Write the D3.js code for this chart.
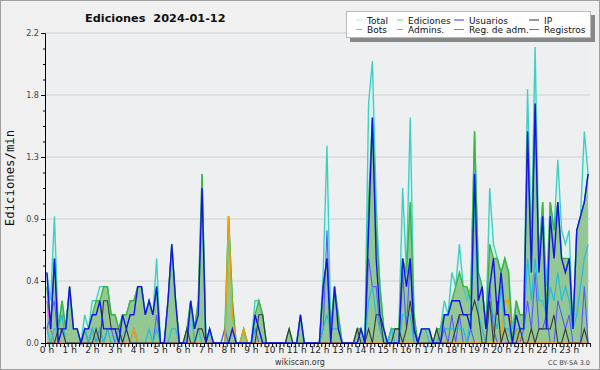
<!DOCTYPE html>
<html><head><meta charset="utf-8">
<script src="https://cdn.jsdelivr.net/npm/d3@7"></script>
<style>
body{margin:0;background:#f0f0f0;}
svg{display:block;font-family:"DejaVu Sans",sans-serif;}
</style></head><body>
<svg id="c" width="600" height="370"></svg>
<script>
const title = "Ediciones  2024-01-12";
const yLabel = "Ediciones/min";
const hourLabels = d3.range(24).map(h => h + " h");
const yTicks = [0, 0.44, 0.88, 1.32, 1.76, 2.2];
const legendNames = ["Total","Ediciones","Usuarios","IP","Bots","Admins.","Reg. de adm.","Registros"];

// 10-minute buckets, 144 per day (values in edits/min)
const total = [
0.5,0.3,0.9,0.1,0.3,0.1, 0.4,0.1,0.1,0,0.2,0.1, 0.3,0.3,0.4,0.4,0.4,0.2, 0.2,0.1,0.2,0.2,0.3,0.3,
0.4,0.4,0.2,0.3,0.2,0.6, 0,0,0.3,0.7,0.3,0, 0,0.1,0.3,0.1,0.3,1.2, 0,0.1,0,0,0,0.1,
0.9,0.3,0,0,0.1,0, 0,0.3,0.3,0.2,0,0, 0,0,0,0,0.1,0, 0,0.2,0,0,0,0,
0,0.5,1.4,0.1,0.4,0.2, 0,0,0,0,0.1,0.1, 0,1.7,2.0,1.0,0.4,0.1, 0,0.1,0.1,0.1,1.1,0.5,
1.6,0.2,0,0.1,0.1,0.1, 0,0.1,0.1,0.3,0.2,0.5, 0.4,0.7,0.4,0.3,0.4,1.5, 0.5,0.4,0.1,1.1,0.7,0.6,
0.5,0.6,0.5,0.1,0.3,0.2, 0.2,1.8,0.7,2.1,0.6,1.0, 0.4,1.0,0.8,1.3,0.8,0.7, 0.8,0.1,0.8,0.9,1.5,1.2];
const ediciones = [
0.4,0.1,0.6,0.1,0.3,0.1, 0.4,0.1,0.1,0,0.1,0.1, 0.2,0.3,0.3,0.4,0.4,0.2, 0.2,0.1,0.2,0.2,0.3,0.3,
0.4,0.4,0.2,0.3,0.2,0.4, 0,0,0.3,0.7,0.3,0, 0,0.1,0.3,0.1,0.3,1.2, 0,0.1,0,0,0,0,
0.9,0.3,0,0,0.1,0, 0,0.2,0.3,0.2,0,0, 0,0,0,0,0.1,0, 0,0.2,0,0,0,0,
0,0.4,0.6,0.1,0.4,0.2, 0,0,0,0,0.1,0.1, 0,1.0,1.6,0.8,0.4,0.1, 0,0.1,0.1,0.1,0.6,0.5,
1.0,0.2,0,0.1,0.1,0.1, 0,0.1,0.1,0.2,0.2,0.3, 0.4,0.5,0.4,0.4,0.3,1.5, 0.5,0.4,0.1,0.7,0.6,0.6,
0.5,0.6,0.5,0,0.3,0.2, 0.2,1.5,0.6,1.7,0.6,1.0, 0.2,1.0,0.8,1.0,0.6,0.6, 0.6,0.1,0.8,0.9,1.0,1.2];
const usuarios = [
0.5,0.1,0.6,0,0.1,0.1, 0.4,0.1,0.1,0,0.1,0.1, 0.2,0.2,0.3,0.1,0.1,0.1, 0.1,0,0.2,0.1,0.2,0.2,
0.4,0.4,0.2,0.3,0.2,0.4, 0,0,0.3,0.7,0.3,0, 0,0,0.3,0.1,0.2,1.1, 0,0.1,0,0,0,0,
0,0.1,0,0,0,0, 0,0.2,0.1,0,0,0, 0,0,0,0,0,0, 0,0.2,0,0,0,0,
0,0.4,0.6,0,0.4,0.1, 0,0,0,0,0,0.1, 0,0.8,1.6,0.6,0.2,0.1, 0,0,0,0,0.6,0.4,
0.6,0.1,0,0.1,0.1,0.1, 0,0,0,0.2,0.2,0.3, 0.3,0.3,0.2,0.2,0.1,1.2, 0.3,0.4,0.1,0.4,0.6,0.2,
0.5,0.2,0.2,0,0.2,0.1, 0.1,1.5,0.5,1.7,0.5,0.9, 0.1,0.9,0.6,1.0,0.6,0.5, 0.6,0.1,0.8,0.9,1.0,1.2];
const ip = [
0,0,0,0.1,0.1,0, 0,0,0,0,0,0, 0,0.1,0,0.3,0.3,0.1, 0.1,0.1,0,0.1,0,0,
0,0,0,0,0,0, 0,0,0,0,0,0, 0,0.1,0,0,0.1,0.1, 0,0,0,0,0,0,
0,0,0,0,0,0, 0,0,0.2,0.2,0,0, 0,0,0,0,0.1,0, 0,0,0,0,0,0,
0,0,0,0,0,0, 0,0,0,0,0.1,0, 0,0.1,0,0.2,0.2,0, 0,0,0.1,0.1,0,0.1,
0.3,0.1,0,0,0,0, 0,0.1,0,0,0,0, 0.1,0.2,0.2,0.2,0.2,0.3, 0.2,0,0,0.3,0,0.3,
0,0.1,0,0,0,0.1, 0,0,0.1,0,0.1,0.1, 0.1,0.1,0.2,0,0,0.1, 0,0,0,0,0.1,0];
const bots = [
0,0,0,0,0,0, 0,0,0,0,0,0, 0,0,0,0,0,0, 0,0,0,0,0,0.1,
0,0,0,0,0,0, 0,0,0,0,0,0, 0,0,0,0,0,0, 0,0,0,0,0,0,
0.9,0.2,0,0,0.1,0, 0,0,0,0,0,0, 0,0,0,0,0,0, 0,0,0,0,0,0,
0,0,0,0,0,0, 0,0,0,0,0,0, 0,0,0,0,0,0, 0,0,0,0,0,0,
0,0,0,0,0,0, 0,0,0,0,0,0, 0,0,0,0,0,0, 0,0,0,0,0,0,
0,0.3,0.3,0,0.1,0, 0,0,0,0,0,0, 0,0,0,0,0,0, 0,0,0,0,0,0];
const admins = [
0.1,0,0.1,0.1,0.2,0, 0,0,0,0,0.1,0, 0.1,0,0.1,0,0.1,0, 0,0.1,0,0.1,0,0,
0,0,0,0.1,0,0.1, 0,0,0,0.1,0.1,0, 0,0,0.3,0,0.1,0, 0,0.1,0,0,0,0,
0,0,0,0,0,0, 0,0.1,0.1,0,0,0, 0,0,0,0,0,0, 0,0,0,0,0,0,
0,0.1,0.2,0.1,0.1,0.1, 0,0,0,0,0,0, 0,0.3,0.4,0.2,0.1,0, 0,0.1,0,0,0.2,0.2,
0.2,0,0,0.1,0.1,0, 0,0,0.1,0.1,0.1,0.1, 0.1,0.1,0.1,0,0.2,1.0, 0.2,0.1,0,0.3,0.2,0.1,
0.4,0.1,0.1,0,0.1,0.1, 0.1,0.6,0.3,0.6,0.3,0.3, 0.2,0.4,0.3,0.5,0.3,0.4, 0.3,0.1,0.2,0.4,0.6,0.7];
const regAdm = [
0.3,0.1,0,0,0,0, 0,0,0,0,0,0, 0,0,0,0,0,0, 0,0,0,0,0,0,
0,0,0,0,0,0, 0,0,0,0,0,0, 0,0,0,0,0,0, 0,0,0,0,0,0,
0,0,0,0,0,0, 0,0,0,0,0,0, 0,0,0,0,0,0, 0,0,0,0,0,0,
0,0,0,0,0,0, 0,0,0,0,0,0, 0,0,0,0,0,0, 0,0,0,0,0,0,
0,0,0,0,0,0, 0,0,0,0,0,0, 0,0,0,0,0,0, 0,0,0,0,0,0,
0,0,0,0,0,0, 0,0,0,0,0,0, 0,0,0,0,0,0, 0,0,0,0,0,0];
const registros = [
0.1,0.2,0.3,0,0,0, 0,0,0,0,0.1,0, 0.1,0,0.1,0,0.1,0.1, 0,0,0,0,0,0.1,
0,0,0,0,0,0.2, 0,0,0,0,0,0, 0,0,0,0,0,0, 0,0,0,0,0,0.1,
0,0,0,0,0,0, 0,0.1,0,0,0,0, 0,0,0,0,0,0, 0,0,0,0,0,0,
0,0.1,0.8,0,0,0, 0,0,0,0,0,0, 0,0.6,0.4,0.4,0.1,0, 0,0,0,0,0.5,0.1,
0.6,0,0,0,0,0, 0,0,0,0.1,0,0.2, 0,0.2,0,0,0.1,0, 0,0,0,0.4,0.1,0,
0,0,0,0,0,0, 0.1,0.3,0.1,0.5,0.1,0.1, 0.2,0,0,0.3,0.2,0.1, 0.2,0,0,0,0.4,0];

const svg = d3.select("#c");
const W = 600, H = 370;
const x = d3.scaleLinear().domain([0, 1440]).range([45, 590]);
const y = d3.scaleLinear().domain([0, 2.2]).range([343, 33]);
const t = i => i * 10 + 5;

svg.append("rect").attr("x",0.5).attr("y",0.5).attr("width",W-1).attr("height",H-1)
  .attr("fill","#f0f0f0").attr("stroke","#a0a0a0");
svg.append("rect").attr("x",45).attr("y",33).attr("width",545).attr("height",310).attr("fill","#edeff1");

// grid
svg.append("g").selectAll("line").data(yTicks.slice(1)).join("line")
  .attr("x1",45).attr("x2",590).attr("y1",d=>y(d)).attr("y2",d=>y(d))
  .attr("stroke","#cfcfcf").attr("stroke-width",1);

const area = d3.area().x((d,i)=>x(t(i))).y0(y(0)).y1(d=>y(d));
const line = d3.line().x((d,i)=>x(t(i))).y(d=>y(d));

svg.append("path").attr("d",area(total)).attr("fill","#d9f3ec").attr("opacity",0.9);
svg.append("path").attr("d",area(ediciones)).attr("fill","#93c793");

const series = [
  {d: total, c:"#3ed0c2", w:1.4},
  {d: ediciones, c:"#3db43d", w:1.4},
  {d: registros, c:"#5a5aff", w:1.1},
  {d: regAdm, c:"#e040f0", w:1.1},
  {d: bots, c:"#f5a000", w:1.3},
  {d: admins, c:"#22bde0", w:1.2},
  {d: ip, c:"#3a3a3a", w:1.1},
  {d: usuarios, c:"#1414e6", w:1.4}
];
series.forEach(s => svg.append("path").attr("d", line(s.d)).attr("fill","none")
  .attr("stroke", s.c).attr("stroke-width", s.w).attr("stroke-linejoin","miter"));

// axes
const xMinor = d3.axisBottom(x).tickValues(d3.range(0, 1441, 10)).tickSize(4).tickFormat("");
const gx = svg.append("g").attr("transform","translate(0,343)").call(xMinor);
gx.select(".domain").attr("stroke","#000");
gx.selectAll(".tick line").attr("stroke","#000");
const xMajor = d3.axisBottom(x).tickValues(d3.range(0, 1440, 60)).tickSize(0).tickPadding(4)
  .tickFormat((d,i)=>hourLabels[i]);
const gx2 = svg.append("g").attr("transform","translate(1.5,343)").call(xMajor);
gx2.select(".domain").remove();
gx2.selectAll("text").attr("font-size",9).attr("fill","#222").attr("font-family","DejaVu Sans, sans-serif");

const yMinor = d3.axisLeft(y).tickValues(d3.range(0, 20).map(k=>k*0.11)).tickSize(2).tickFormat("");
const gy0 = svg.append("g").attr("transform","translate(45,0)").call(yMinor);
gy0.select(".domain").remove();
gy0.selectAll(".tick line").attr("stroke","#000");
const yMajor = d3.axisLeft(y).tickValues(yTicks).tickSize(4).tickPadding(2).tickFormat(d3.format(".1f"));
const gy = svg.append("g").attr("transform","translate(45,0)").call(yMajor);
gy.select(".domain").attr("stroke","#000");
gy.selectAll(".tick line").attr("stroke","#000");
gy.selectAll("text").attr("font-size",9).attr("fill","#444").attr("font-family","DejaVu Sans Condensed, DejaVu Sans, sans-serif");

svg.append("text").attr("x",85).attr("y",22).attr("font-size",11.3).attr("font-weight","bold")
  .attr("fill","#111").style("white-space","pre").text(title);
svg.append("text").attr("transform","translate(14,178) rotate(-90)").attr("text-anchor","middle")
  .attr("font-size",12.3).attr("font-family","DejaVu Sans Mono, monospace").attr("fill","#111").text(yLabel);

svg.append("text").attr("x",300).attr("y",365).attr("text-anchor","middle").attr("font-size",8)
  .attr("fill","#333").text("wikiscan.org");
svg.append("text").attr("x",590).attr("y",365).attr("text-anchor","end").attr("font-size",6.5)
  .attr("fill","#444").text("CC BY-SA 3.0");

// legend
const lg = svg.append("g");
lg.append("rect").attr("x",350).attr("y",15).attr("width",245).attr("height",27).attr("fill","#888");
lg.append("rect").attr("x",346.5).attr("y",11.5).attr("width",244).attr("height",26).attr("fill","#fff").attr("stroke","#bbb");
const lcol = [356, 397, 454, 529];
const lw = [6, 6, 10, 10];
const lcolor = ["#a8ece6","#7fd07f","#3a3aff","#333","#f5a623","#2ad0e8","#e040f0","#6a6aff"];
legendNames.forEach((n, k) => {
  const col = k % 4, row = Math.floor(k / 4);
  const yy = 20 + row * 9.5;
  lg.append("line").attr("x1",lcol[col]).attr("x2",lcol[col]+lw[col]).attr("y1",yy).attr("y2",yy)
    .attr("stroke",lcolor[k]).attr("stroke-width",1);
  lg.append("text").attr("x",lcol[col]+lw[col]+5).attr("y",yy+3.5).attr("font-size",9)
    .attr("fill","#111").text(n);
});
</script>
</body></html>
